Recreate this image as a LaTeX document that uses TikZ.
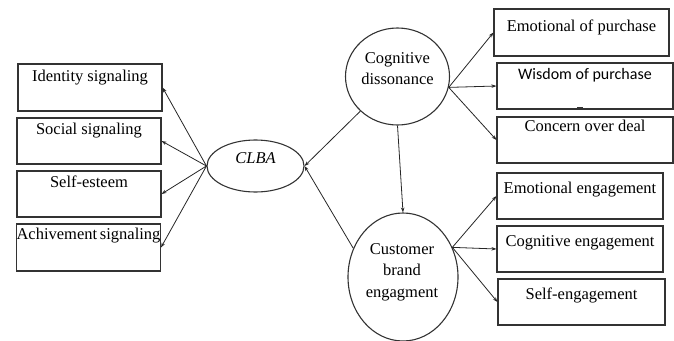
\documentclass[tikz,border=0pt]{standalone}
\usepackage{fontspec}
\setmainfont{Liberation Serif}
\newfontfamily\calib{Carlito}
\usetikzlibrary{shapes.geometric,arrows.meta}
\begin{document}
\begin{tikzpicture}[x=1pt,y=-1pt,
  line width=0.9pt,
  every node/.style={font=\fontsize{16.5}{22}\selectfont, inner sep=0pt},
  box/.style={draw=black!80, line width=1.1pt, rectangle, anchor=base, text height=#1},
  oval/.style={draw=black!80, line width=1.1pt, ellipse},
  arr/.style={draw=black!85, line width=0.8pt, -{Stealth[length=5pt,width=3.5pt]}},
  lbl/.style={anchor=base, align=center}
]
\useasboundingbox (0,0) rectangle (674,340);
\clip (0,0) rectangle (674,340);
% left boxes
\node[box=17pt, text depth=30pt, minimum width=144pt] (L1) at (90,81) {Identity signaling};
\node[box=16pt, text depth=30pt, minimum width=144pt] (L2) at (89,134) {Social signaling};
\node[box=16pt, text depth=30pt, minimum width=144pt] (L3) at (89,187) {Self-esteem};
\node[box=15pt, text depth=32pt, minimum width=143pt] (L4) at (88.5,239) {Achivement\,signaling};
% right boxes
\node[box=22pt, text depth=25pt, minimum width=175pt] (R1) at (581.5,31) {Emotional of purchase};
\node[box=16pt, text depth=30pt, minimum width=176pt, font=\calib\fontsize{16}{20}\selectfont] (R2) at (585,79) {Wisdom of purchase};
\node[box=14.5pt, text depth=31.5pt, minimum width=176pt] (R3) at (585,131.5) {Concern over deal};
\node[box=20pt, text depth=26pt, minimum width=166pt] (R4) at (580,193) {Emotional engagement};
\node[box=20pt, text depth=26pt, minimum width=166pt] (R5) at (580,246) {Cognitive engagement};
\node[box=20pt, text depth=26pt, minimum width=167pt] (R6) at (581.5,299) {Self-engagement};
\draw[line width=1.6pt, black!80] (577,107.5) -- (583,107.5);
% ellipses
\node[oval, minimum width=97pt, minimum height=52pt] (CLBA) at (255.5,166) {};
\node[lbl] (CLBAt) at (255.5,163) {\itshape CLBA};
\node[oval, minimum width=104pt, minimum height=97pt] (CD) at (397.5,76.5) {};
\node[lbl] (CDt1) at (397.5,63) {Cognitive};
\node[lbl] (CDt2) at (397.5,84) {dissonance};
\node[oval, minimum width=110pt, minimum height=128pt] (CBE) at (403,277) {};
\node[lbl] (CBEt1) at (402,254) {Customer};
\node[lbl] (CBEt2) at (402,275.5) {brand};
\node[lbl] (CBEt3) at (402,297) {engagment};
% connectors
\draw[arr] (CLBA.west) -- (L1.east);
\draw[arr] (CLBA.west) -- (L2.east);
\draw[arr] (CLBA.west) -- (L3.east);
\draw[arr] (CLBA.west) -- (L4.east);
\draw[arr] (CD.223) -- (CLBA.east);
\draw[arr] (CBE.150) -- (CLBA.east);
\draw[arr] (CD.south) -- (CBE.north);
\coordinate (cdo) at (CD.-12);
\draw[arr] (cdo) -- (R1.west);
\draw[arr] (cdo) -- (R2.west);
\draw[arr] (cdo) -- (R3.west);
\coordinate (cbo) at (CBE.31);
\draw[arr] (cbo) -- (R4.west);
\draw[arr] (cbo) -- (R5.west);
\draw[arr] (cbo) -- (R6.west);
\end{tikzpicture}
\end{document}
